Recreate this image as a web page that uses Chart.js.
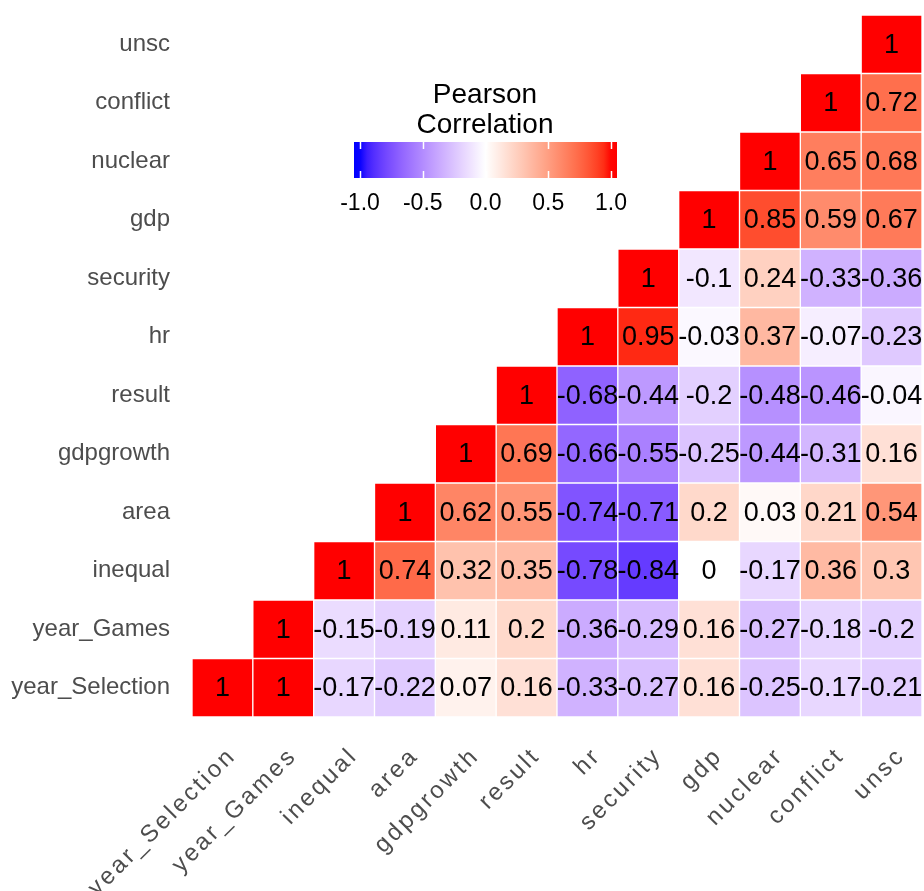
<!DOCTYPE html>
<html>
<head>
<meta charset="utf-8">
<script src="https://cdn.jsdelivr.net/npm/chart.js@4"></script>
<style>
  html, body { margin: 0; padding: 0; background: #fff; }
  #wrap { width: 924px; height: 891px; }
</style>
</head>
<body>
<div id="wrap"><canvas id="c" width="924" height="891"></canvas></div>
<script>
// Column variables (x axis, left to right)
const colLabels = ['year_Selection', 'year_Games', 'inequal', 'area', 'gdpgrowth', 'result', 'hr', 'security', 'gdp', 'nuclear', 'conflict', 'unsc'];
// Row variables (y axis, bottom to top)
const rowLabels = ['year_Selection', 'year_Games', 'inequal', 'area', 'gdpgrowth', 'result', 'hr', 'security', 'gdp', 'nuclear', 'conflict', 'unsc'];

// Correlation values per row (one value per column; null = empty cell)
const rowYearSelection = [1, 1, -0.17, -0.22, 0.07, 0.16, -0.33, -0.27, 0.16, -0.25, -0.17, -0.21];
const rowYearGames     = [null, 1, -0.15, -0.19, 0.11, 0.2, -0.36, -0.29, 0.16, -0.27, -0.18, -0.2];
const rowInequal       = [null, null, 1, 0.74, 0.32, 0.35, -0.78, -0.84, 0, -0.17, 0.36, 0.3];
const rowArea          = [null, null, null, 1, 0.62, 0.55, -0.74, -0.71, 0.2, 0.03, 0.21, 0.54];
const rowGdpgrowth     = [null, null, null, null, 1, 0.69, -0.66, -0.55, -0.25, -0.44, -0.31, 0.16];
const rowResult        = [null, null, null, null, null, 1, -0.68, -0.44, -0.2, -0.48, -0.46, -0.04];
const rowHr            = [null, null, null, null, null, null, 1, 0.95, -0.03, 0.37, -0.07, -0.23];
const rowSecurity      = [null, null, null, null, null, null, null, 1, -0.1, 0.24, -0.33, -0.36];
const rowGdp           = [null, null, null, null, null, null, null, null, 1, 0.85, 0.59, 0.67];
const rowNuclear       = [null, null, null, null, null, null, null, null, null, 1, 0.65, 0.68];
const rowConflict      = [null, null, null, null, null, null, null, null, null, null, 1, 0.72];
const rowUnsc          = [null, null, null, null, null, null, null, null, null, null, null, 1];

const rowValues = [rowYearSelection, rowYearGames, rowInequal, rowArea, rowGdpgrowth, rowResult,
                   rowHr, rowSecurity, rowGdp, rowNuclear, rowConflict, rowUnsc];

// Legend
const legendTitle = ['Pearson', 'Correlation'];
const legendTicks = [-1.0, -0.5, 0.0, 0.5, 1.0];
const legendTickLabels = ['-1.0', '-0.5', '0.0', '0.5', '1.0'];

// ---- Lab colour interpolation (blue - white - red) ----
function srgbToLin(c) { c /= 255; return c <= 0.04045 ? c / 12.92 : Math.pow((c + 0.055) / 1.055, 2.4); }
function linToSrgb(c) { c = c <= 0.0031308 ? 12.92 * c : 1.055 * Math.pow(c, 1 / 2.4) - 0.055; return Math.max(0, Math.min(255, Math.round(c * 255))); }
const WX = 0.95047, WY = 1.0, WZ = 1.08883;
function rgbToLab(r, g, b) {
  const R = srgbToLin(r), G = srgbToLin(g), B = srgbToLin(b);
  const X = (R * 0.4124564 + G * 0.3575761 + B * 0.1804375) / WX;
  const Y = (R * 0.2126729 + G * 0.7151522 + B * 0.0721750) / WY;
  const Z = (R * 0.0193339 + G * 0.1191920 + B * 0.9503041) / WZ;
  const f = t => t > 0.008856 ? Math.cbrt(t) : (7.787 * t + 16 / 116);
  const fx = f(X), fy = f(Y), fz = f(Z);
  return [116 * fy - 16, 500 * (fx - fy), 200 * (fy - fz)];
}
function labToRgb(L, a, b) {
  const fy = (L + 16) / 116, fx = fy + a / 500, fz = fy - b / 200;
  const fi = t => t * t * t > 0.008856 ? t * t * t : (t - 16 / 116) / 7.787;
  const X = fi(fx) * WX, Y = fi(fy) * WY, Z = fi(fz) * WZ;
  const R = X * 3.2404542 + Y * -1.5371385 + Z * -0.4985314;
  const G = X * -0.9692660 + Y * 1.8760108 + Z * 0.0415560;
  const B = X * 0.0556434 + Y * -0.2040259 + Z * 1.0572252;
  return [linToSrgb(R), linToSrgb(G), linToSrgb(B)];
}
const LAB_LOW = rgbToLab(0, 0, 255), LAB_MID = rgbToLab(255, 255, 255), LAB_HIGH = rgbToLab(255, 0, 0);
function corrColor(v) {
  v = Math.max(-1, Math.min(1, v));
  const from = LAB_MID, to = v < 0 ? LAB_LOW : LAB_HIGH, t = Math.abs(v);
  const lab = [0, 1, 2].map(k => from[k] + (to[k] - from[k]) * t);
  const rgb = labToRgb(lab[0], lab[1], lab[2]);
  return `rgb(${rgb[0]},${rgb[1]},${rgb[2]})`;
}

const FONT = '"Liberation Sans", Arial, sans-serif';

// One floating-bar dataset per row: each cell spans [row-0.5, row+0.5]
const datasets = rowValues.map((vals, i) => ({
  label: rowLabels[i],
  data: vals.map(v => v === null ? null : [i - 0.5, i + 0.5]),
  corr: vals,
  backgroundColor: vals.map(v => v === null ? 'rgba(0,0,0,0)' : corrColor(v)),
  borderColor: '#ffffff',
  borderWidth: 1,
  borderSkipped: false,
  grouped: false,
  barPercentage: 1.0,
  categoryPercentage: 1.0
}));

const cellLabelPlugin = {
  id: 'cellLabels',
  afterDatasetsDraw(chart) {
    const ctx = chart.ctx;
    ctx.save();
    ctx.font = `27px ${FONT}`;
    ctx.fillStyle = '#000000';
    ctx.textAlign = 'center';
    ctx.textBaseline = 'middle';
    chart.data.datasets.forEach((ds, di) => {
      const meta = chart.getDatasetMeta(di);
      meta.data.forEach((el, j) => {
        const v = ds.corr[j];
        if (v === null) return;
        const cy = (el.y + el.base) / 2;
        ctx.fillText(String(v), el.x, cy + 1);
      });
    });
    ctx.restore();
  }
};

const legendPlugin = {
  id: 'colorLegend',
  afterDraw(chart) {
    const ctx = chart.ctx;
    const barL = 354, barR = 617, barT = 142, barB = 178;
    const v2x = v => 485.5 + v * 125.5;
    ctx.save();
    // title
    ctx.fillStyle = '#000000';
    ctx.font = `28px ${FONT}`;
    ctx.textAlign = 'center';
    ctx.textBaseline = 'middle';
    ctx.fillText(legendTitle[0], 485, 95);
    ctx.fillText(legendTitle[1], 485, 125);
    // gradient bar
    const grad = ctx.createLinearGradient(barL, 0, barR, 0);
    const vL = (barL - 485.5) / 125.5, vR = (barR - 485.5) / 125.5;
    for (let k = 0; k <= 40; k++) {
      const v = vL + (vR - vL) * k / 40;
      grad.addColorStop(k / 40, corrColor(v));
    }
    ctx.fillStyle = grad;
    ctx.fillRect(barL, barT, barR - barL, barB - barT);
    // tick marks
    ctx.strokeStyle = '#ffffff';
    ctx.lineWidth = 1.5;
    legendTicks.forEach(v => {
      const x = Math.round(v2x(v)) + 0.5;
      ctx.beginPath();
      ctx.moveTo(x, barT); ctx.lineTo(x, barT + 7);
      ctx.moveTo(x, barB - 7); ctx.lineTo(x, barB);
      ctx.stroke();
    });
    // tick labels
    ctx.fillStyle = '#000000';
    ctx.font = `23px ${FONT}`;
    legendTicks.forEach((v, k) => {
      ctx.fillText(legendTickLabels[k], v2x(v), 204);
    });
    ctx.restore();
  }
};

new Chart(document.getElementById('c'), {
  type: 'bar',
  data: { labels: colLabels, datasets },
  options: {
    responsive: false,
    devicePixelRatio: 1,
    animation: false,
    layout: { padding: { left: 8, right: 2, top: 15, bottom: 0 } },
    plugins: { legend: { display: false }, tooltip: { enabled: false } },
    scales: {
      x: {
        type: 'category',
        offset: true,
        grid: { display: false, drawTicks: false },
        border: { display: false },
        ticks: {
          color: '#4d4d4d',
          font: { family: FONT, size: 24 },
          minRotation: 45,
          maxRotation: 45,
          autoSkip: false,
          padding: 25,
          labelOffset: 10
        },
        afterFit(axis) {
          axis.height = 174;
          axis.paddingLeft = 0;
          axis.paddingRight = 0;
          if (!axis._spaced) {
            const orig = axis.drawLabels.bind(axis);
            axis.drawLabels = function (area) {
              const ctx = this.ctx;
              ctx.save();
              ctx.letterSpacing = '2.8px';
              orig(area);
              ctx.restore();
            };
            axis._spaced = true;
          }
        }
      },
      y: {
        type: 'linear',
        min: -0.5,
        max: 11.5,
        grid: { display: false, drawTicks: false },
        border: { display: false },
        afterBuildTicks(axis) { axis.ticks = rowLabels.map((_, i) => ({ value: i })); },
        ticks: {
          color: '#4d4d4d',
          font: { family: FONT, size: 24 },
          padding: 22,
          autoSkip: false,
          callback: (value) => rowLabels[value]
        },
        afterFit(axis) {
          axis.width = 184;
          axis.paddingTop = 0;
          axis.paddingBottom = 0;
        }
      }
    }
  },
  plugins: [cellLabelPlugin, legendPlugin]
});
</script>
</body>
</html>
